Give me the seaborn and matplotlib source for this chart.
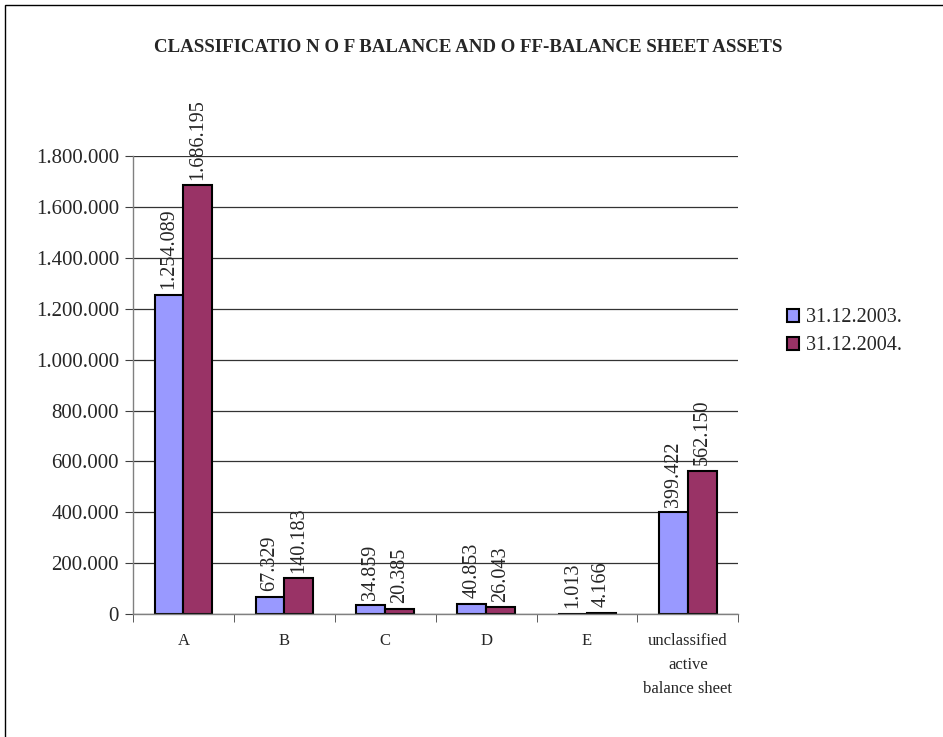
import pandas as pd
import seaborn as sns
import matplotlib.pyplot as plt
from matplotlib.patches import Rectangle
from matplotlib.ticker import FuncFormatter

categories = ["A", "B", "C", "D", "E", "unclassified\nactive\nbalance sheet"]
series = ["31.12.2003.", "31.12.2004."]
values_2003 = [1254089, 67329, 34859, 40853, 1013, 399422]
values_2004 = [1686195, 140183, 20385, 26043, 4166, 562150]
colors = ["#9999FF", "#993366"]

df = pd.DataFrame({
    "cat": categories * 2,
    "date": [series[0]] * 6 + [series[1]] * 6,
    "val": values_2003 + values_2004,
})

sns.set_style("white")
plt.rcParams["font.family"] = ["Liberation Serif", "DejaVu Serif"]

def dots(v, pos=None):
    return f"{int(round(v)):,}".replace(",", ".")

fig = plt.figure(figsize=(9.43, 7.37), dpi=100)
ax = fig.add_axes([0.141, 0.167, 0.642, 0.621])

sns.barplot(df, x="cat", y="val", hue="date", palette=colors, width=0.571, gap=0,
            edgecolor="black", linewidth=1.5, saturation=1, ax=ax, legend=True)

for cont in ax.containers:
    ax.bar_label(cont, labels=[dots(b.get_height()) for b in cont], rotation=90,
                 padding=4, fontsize=14.5)

ax.set_ylim(0, 1800000)
ax.set_xlim(-0.5, 5.5)
ax.set_yticks(range(0, 1800001, 200000))
ax.yaxis.set_major_formatter(FuncFormatter(dots))
ax.yaxis.grid(True, color="#333333", linewidth=0.9)
ax.set_axisbelow(True)
ax.set_xlabel("")
ax.set_ylabel("")

for s in ["top", "right"]:
    ax.spines[s].set_visible(False)
for s in ["left", "bottom"]:
    ax.spines[s].set_color("#808080")
    ax.spines[s].set_linewidth(1)

ax.tick_params(axis="y", labelsize=15, length=6, direction="out", left=True,
               color="#404040", pad=4)
ax.set_xticks([i - 0.5 for i in range(7)], minor=True)
ax.tick_params(axis="x", which="minor", length=6, direction="out", bottom=True,
               color="#404040")
ax.tick_params(axis="x", which="major", length=0, labelsize=12, pad=14)
for lbl in ax.get_xticklabels():
    lbl.set_linespacing(1.65)
    lbl.set_verticalalignment("top")

handles, labels = ax.get_legend_handles_labels()
ax.legend(handles, labels, loc="center left", bbox_to_anchor=(0.826, 0.55),
          bbox_transform=fig.transFigure, frameon=False, fontsize=14.5,
          handlelength=0.62, handleheight=0.62, handletextpad=0.3,
          labelspacing=0.45, borderaxespad=0)

fig.suptitle("CLASSIFICATIO N O F BALANCE AND O FF-BALANCE SHEET ASSETS",
             x=0.497, y=0.936, va="center", fontsize=13.6, fontweight="bold")

fig.patches.append(Rectangle((0.0055, -0.05), 1.2, 1.043, transform=fig.transFigure,
                             fill=False, edgecolor="black", linewidth=1))

fig.savefig("out.png", dpi=100)
